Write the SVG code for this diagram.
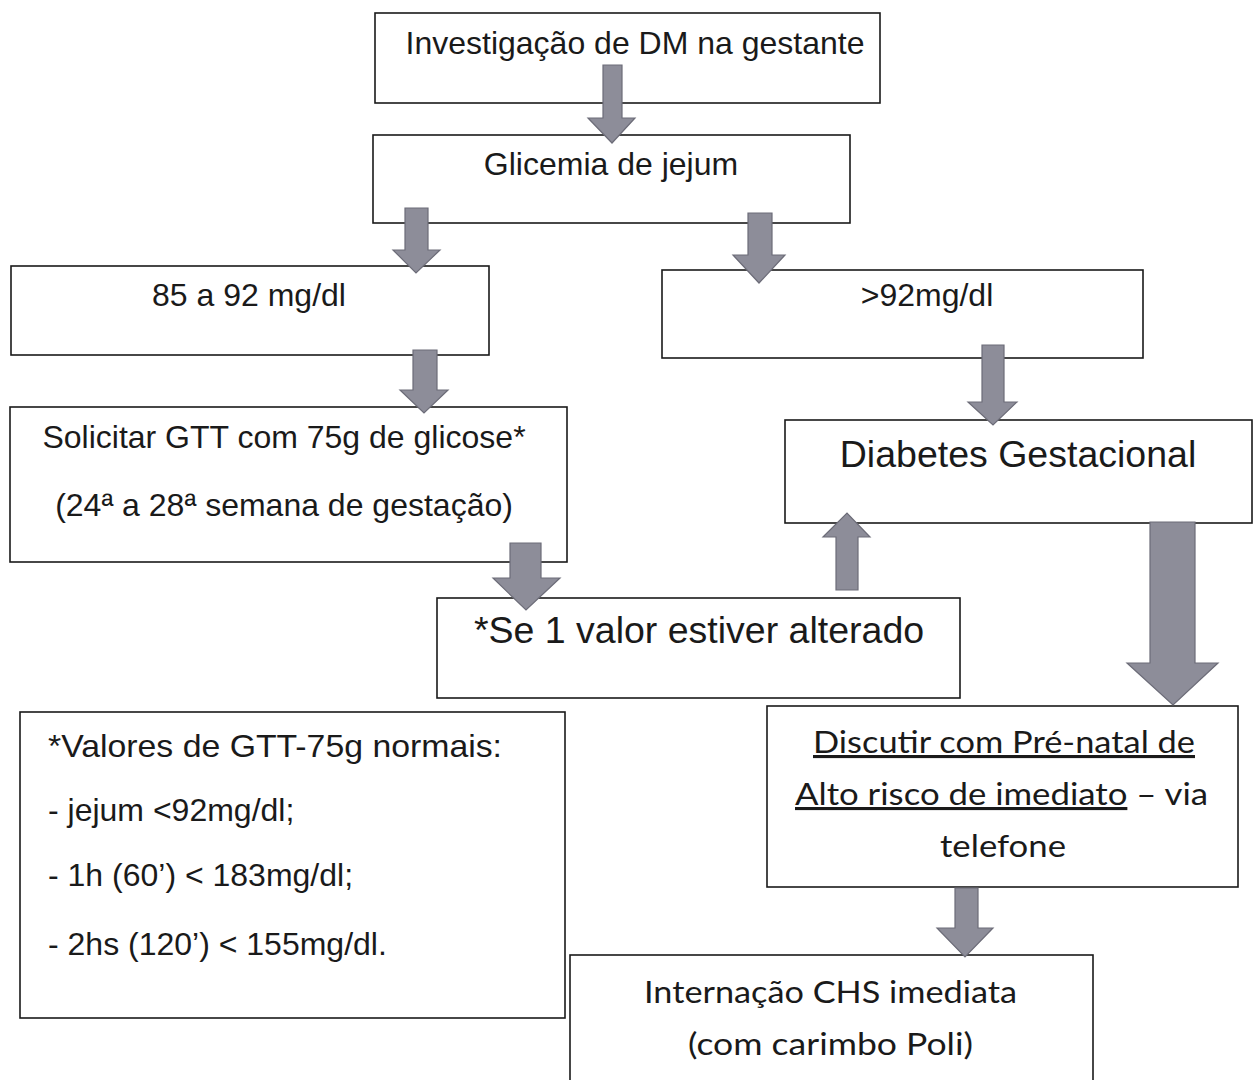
<svg xmlns="http://www.w3.org/2000/svg" width="1258" height="1080" viewBox="0 0 1258 1080">
  <style>
    .box { fill: #ffffff; stroke: #1a1a1a; stroke-width: 1.6; }
    .arrow { fill: #8d8d99; stroke: #6c6c78; stroke-width: 1.2; stroke-linejoin: miter; }
    .t { font-family: "Liberation Sans", Arial, sans-serif; font-size: 32px; fill: #1a1a1a; }
    .tl { font-family: "Liberation Sans", Arial, sans-serif; font-size: 37.5px; fill: #1a1a1a; }
    .c { font-family: Lato, "Open Sans", sans-serif; font-size: 31px; fill: #1a1a1a; }
    .mid { text-anchor: middle; }
    .u { text-decoration: underline; }
  </style>
  <rect width="1258" height="1080" fill="#ffffff"/>

  <g id="n-investigacao">
    <rect class="box" x="375" y="13" width="505" height="90"/>
    <text class="t mid" x="635" y="54">Investigação de DM na gestante</text>
  </g>

  <g id="n-glicemia">
    <rect class="box" x="373" y="135" width="477" height="88"/>
    <text class="t mid" x="611" y="175">Glicemia de jejum</text>
  </g>

  <g id="n-85a92">
    <rect class="box" x="11" y="266" width="478" height="89"/>
    <text class="t mid" x="249" y="306">85 a 92 mg/dl</text>
  </g>

  <g id="n-maior92">
    <rect class="box" x="662" y="270" width="481" height="88"/>
    <text class="t mid" x="927" y="306">&gt;92mg/dl</text>
  </g>

  <g id="n-solicitar">
    <rect class="box" x="10" y="407" width="557" height="155"/>
    <text class="t mid" x="284" y="448">Solicitar GTT com 75g de glicose*</text>
    <text class="t mid" x="284" y="516">(24ª a 28ª semana de gestação)</text>
  </g>

  <g id="n-diabetes">
    <rect class="box" x="785" y="420" width="467" height="103"/>
    <text class="tl mid" x="1018" y="467">Diabetes Gestacional</text>
  </g>

  <g id="n-alterado">
    <rect class="box" x="437" y="598" width="523" height="100"/>
    <text class="tl mid" x="699" y="643">*Se 1 valor estiver alterado</text>
  </g>

  <g id="n-valores">
    <rect class="box" x="20" y="712" width="545" height="306"/>
    <text class="t" x="48" y="757" textLength="454" lengthAdjust="spacingAndGlyphs">*Valores de GTT-75g normais:</text>
    <text class="t" x="48" y="821">- jejum &lt;92mg/dl;</text>
    <text class="t" x="48" y="886">- 1h (60’) &lt; 183mg/dl;</text>
    <text class="t" x="48" y="955">- 2hs (120’) &lt; 155mg/dl.</text>
  </g>

  <g id="n-discutir">
    <rect class="box" x="767" y="706" width="471" height="181"/>
    <text class="c" x="813" y="753" textLength="382" lengthAdjust="spacingAndGlyphs"><tspan class="u">Discutir com Pré-natal de</tspan></text>
    <text class="c" x="795" y="805" textLength="413" lengthAdjust="spacingAndGlyphs"><tspan class="u">Alto risco de imediato</tspan> – via</text>
    <text class="c" x="940" y="857" textLength="126" lengthAdjust="spacingAndGlyphs">telefone</text>
  </g>

  <g id="n-internacao">
    <rect class="box" x="570" y="955" width="523" height="140"/>
    <text class="c" x="644" y="1003" textLength="373" lengthAdjust="spacingAndGlyphs">Internação CHS imediata</text>
    <text class="c" x="688" y="1055" textLength="285" lengthAdjust="spacingAndGlyphs">(com carimbo Poli)</text>
  </g>

  <g id="connectors">
    <!-- block arrows: shaft, shoulders, tip -->
    <path class="arrow" d="M603,65 H622 V118 H635 L612,143 L588,118 H603 Z"/>
    <path class="arrow" d="M405,208 H428 V250 H440 L416,273 L393,250 H405 Z"/>
    <path class="arrow" d="M748,213 H772 V255 H785 L759,283 L733,255 H748 Z"/>
    <path class="arrow" d="M413,350 H437 V390 H448 L424,413 L400,390 H413 Z"/>
    <path class="arrow" d="M982,345 H1004 V402 H1017 L993,425 L968,402 H982 Z"/>
    <path class="arrow" d="M510,543 H541 V578 H560 L526,610 L493,578 H510 Z"/>
    <path class="arrow" d="M836,590 H858 V537 H870 L847,513 L823,537 H836 Z"/>
    <path class="arrow" d="M1150,522 H1195 V663 H1218 L1173,705 L1127,663 H1150 Z"/>
    <path class="arrow" d="M955,888 H978 V928 H993 L965,957 L937,928 H955 Z"/>
  </g>
</svg>
